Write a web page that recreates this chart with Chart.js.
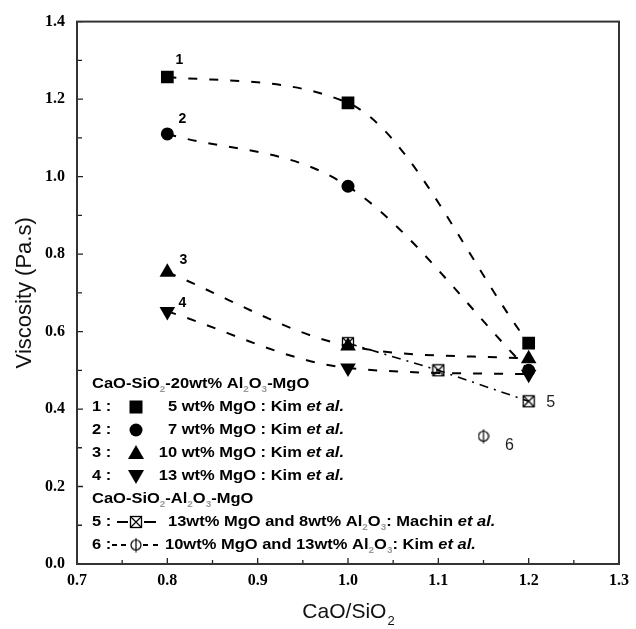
<!DOCTYPE html>
<html lang="en">
<head>
<meta charset="UTF-8">
<title>Viscosity vs CaO/SiO2</title>
<script src="https://cdn.jsdelivr.net/npm/chart.js"></script>
<style>
  html, body { margin: 0; padding: 0; background: #fff; }
  #wrap { position: relative; width: 636px; height: 629px; }
</style>
</head>
<body>
<div id="wrap"><canvas id="viscChart" width="636" height="629"></canvas></div>
<script>
// CaO/SiO2 ratio of each group of measurements
const basicityKim = [0.8, 1.0, 1.2];
const basicityMachin = [1.0, 1.1, 1.2];
const basicityKimAl13 = [1.15];

// viscosity in Pa.s
const visc5MgO = [1.257, 1.19, 0.57];
const visc7MgO = [1.11, 0.975, 0.50];
const visc10MgO = [0.753, 0.563, 0.53];
const visc13MgO = [0.652, 0.506, 0.49];
const viscMachin = [0.57, 0.50, 0.42];
const viscKimAl13 = [0.33];

// axis ticks
const xTickLabels = ['0.7', '0.8', '0.9', '1.0', '1.1', '1.2', '1.3'];
const yTickLabels = ['0.0', '0.2', '0.4', '0.6', '0.8', '1.0', '1.2', '1.4'];

const FONT = '"Liberation Sans", Arial, sans-serif';
const SERIF = '"Liberation Serif", "Times New Roman", serif';
const TEXT_STRETCH = 1.1; // the scanned figure's lettering is a bit wide

// custom marker images (crossed box, circle with bar)
function makeCrossBox(size) {
    const c = document.createElement('canvas');
    c.width = size; c.height = size;
    const g = c.getContext('2d');
    g.strokeStyle = '#000';
    g.lineWidth = 1.3;
    g.strokeRect(1.5, 1.5, size - 3, size - 3);
    g.beginPath();
    g.moveTo(2, 2); g.lineTo(size - 2, size - 2);
    g.moveTo(size - 2, 2); g.lineTo(2, size - 2);
    g.stroke();
    return c;
}
function makePhi(w, h) {
    const c = document.createElement('canvas');
    c.width = w; c.height = h;
    const g = c.getContext('2d');
    g.strokeStyle = '#000';
    g.lineWidth = 1.2;
    g.beginPath();
    g.ellipse(w / 2, h / 2, w / 2 - 1, h / 2 - 2.5, 0, 0, Math.PI * 2);
    g.stroke();
    g.beginPath();
    g.moveTo(w / 2, 0.5); g.lineTo(w / 2, h - 0.5);
    g.stroke();
    return c;
}
const crossBox = makeCrossBox(14);
const phiMark = makePhi(12, 15);

function pts(xs, ys) {
    return xs.map((x, i) => ({ x: x, y: ys[i] }));
}

const dashFit = [9, 12];

function kimSet(ys, style, radius, rotation) {
    return {
        data: pts(basicityKim, ys),
        showLine: true,
        tension: 0.4,
        cubicInterpolationMode: 'monotone',
        borderColor: '#000',
        borderWidth: 2,
        borderDash: dashFit,
        pointStyle: style,
        pointRadius: radius,
        pointRotation: rotation || 0,
        pointBackgroundColor: '#000',
        pointBorderColor: '#000',
        pointBorderWidth: 0
    };
}

// legend text pieces: n = bold, s = subscript, i = italic
const legendRows = [
    { y: 384, x: 92, parts: [['CaO-SiO', 'n'], ['2', 's'], ['-20wt% Al', 'n'], ['2', 's'], ['O', 'n'], ['3', 's'], ['-MgO', 'n']] },
    { y: 407, num: '1 :', mark: 'rect', right: 344, parts: [['5 wt% MgO : Kim ', 'n'], ['et al.', 'i']] },
    { y: 430, num: '2 :', mark: 'circle', right: 344, parts: [['7 wt% MgO : Kim ', 'n'], ['et al.', 'i']] },
    { y: 453, num: '3 :', mark: 'tri', right: 344, parts: [['10 wt% MgO : Kim ', 'n'], ['et al.', 'i']] },
    { y: 476, num: '4 :', mark: 'triDown', right: 344, parts: [['13 wt% MgO : Kim ', 'n'], ['et al.', 'i']] },
    { y: 499, x: 92, parts: [['CaO-SiO', 'n'], ['2', 's'], ['-Al', 'n'], ['2', 's'], ['O', 'n'], ['3', 's'], ['-MgO', 'n']] },
    { y: 522, num: '5 :', mark: 'box', x: 168, parts: [['13wt% MgO and 8wt% Al', 'n'], ['2', 's'], ['O', 'n'], ['3', 's'], [': Machin ', 'n'], ['et al.', 'i']] },
    { y: 545, num: '6 :', mark: 'phi', x: 165, parts: [['10wt% MgO and 13wt% Al', 'n'], ['2', 's'], ['O', 'n'], ['3', 's'], [': Kim ', 'n'], ['et al.', 'i']] }
];

function partFont(kind, size) {
    if (kind === 's') return 'bold ' + Math.round(size * 0.6) + 'px ' + FONT;
    if (kind === 'i') return 'italic bold ' + size + 'px ' + FONT;
    return 'bold ' + size + 'px ' + FONT;
}

function drawRich(ctx, parts, x, y, size, alignRight) {
    let w = 0;
    parts.forEach(p => { ctx.font = partFont(p[1], size); w += ctx.measureText(p[0]).width; });
    const start = alignRight ? x - w * TEXT_STRETCH : x;
    ctx.save();
    ctx.translate(start, y);
    ctx.scale(TEXT_STRETCH, 1);
    ctx.textAlign = 'left';
    ctx.textBaseline = 'middle';
    let cx = 0;
    parts.forEach(p => {
        ctx.font = partFont(p[1], size);
        ctx.fillStyle = p[1] === 's' ? '#999' : '#000';
        ctx.fillText(p[0], cx, p[1] === 's' ? size * 0.4 : 0);
        cx += ctx.measureText(p[0]).width;
    });
    ctx.restore();
}

function drawMark(ctx, kind, x, y) {
    ctx.save();
    ctx.fillStyle = '#000';
    ctx.strokeStyle = '#000';
    ctx.beginPath();
    if (kind === 'rect') {
        ctx.fillRect(x - 6.5, y - 6.5, 13, 13);
    } else if (kind === 'circle') {
        ctx.arc(x, y, 6.5, 0, Math.PI * 2);
        ctx.fill();
    } else if (kind === 'tri') {
        ctx.moveTo(x, y - 8); ctx.lineTo(x + 8, y + 6); ctx.lineTo(x - 8, y + 6);
        ctx.closePath(); ctx.fill();
    } else if (kind === 'triDown') {
        ctx.moveTo(x, y + 8); ctx.lineTo(x + 8, y - 6); ctx.lineTo(x - 8, y - 6);
        ctx.closePath(); ctx.fill();
    } else if (kind === 'box') {
        ctx.lineWidth = 2;
        ctx.moveTo(117, y); ctx.lineTo(128, y);
        ctx.moveTo(144, y); ctx.lineTo(156, y);
        ctx.stroke();
        ctx.drawImage(crossBox, x - 7, y - 7);
    } else if (kind === 'phi') {
        ctx.lineWidth = 2;
        ctx.moveTo(112, y); ctx.lineTo(117, y);
        ctx.moveTo(121, y); ctx.lineTo(126, y);
        ctx.moveTo(143, y); ctx.lineTo(148, y);
        ctx.moveTo(153, y); ctx.lineTo(158, y);
        ctx.stroke();
        ctx.drawImage(phiMark, x - 6, y - 7.5);
    }
    ctx.restore();
}

// frame, inward ticks, series numbers, legend block and x title
const notesPlugin = {
    id: 'notes',
    afterDraw(chart) {
        const ctx = chart.ctx;
        const a = chart.chartArea;
        const xs = chart.scales.x;
        const ys = chart.scales.y;
        ctx.save();

        // ticks pointing into the plot
        ctx.strokeStyle = '#222';
        ctx.lineWidth = 1.3;
        ctx.beginPath();
        for (let i = 0; i <= 12; i++) {
            const px = xs.getPixelForValue(0.7 + i * 0.05);
            const len = i % 2 === 0 ? 6 : 4;
            ctx.moveTo(px, a.bottom); ctx.lineTo(px, a.bottom - len);
        }
        for (let i = 0; i <= 14; i++) {
            const py = ys.getPixelForValue(i * 0.1);
            const len = i % 2 === 0 ? 6 : 5;
            ctx.moveTo(a.left, py); ctx.lineTo(a.left + len, py);
        }
        ctx.stroke();

        // frame
        ctx.strokeStyle = '#333';
        ctx.lineWidth = 2;
        ctx.strokeRect(a.left, a.top, a.right - a.left, a.bottom - a.top);

        // series numbers next to the points
        ctx.fillStyle = '#000';
        ctx.textAlign = 'center';
        ctx.textBaseline = 'middle';
        ctx.font = 'bold 14px ' + FONT;
        const x08 = xs.getPixelForValue(basicityKim[0]);
        ctx.fillText('1', x08 + 12, ys.getPixelForValue(visc5MgO[0]) - 17);
        ctx.fillText('2', x08 + 15, ys.getPixelForValue(visc7MgO[0]) - 15);
        ctx.fillText('3', x08 + 16, ys.getPixelForValue(visc10MgO[0]) - 12);
        ctx.fillText('4', x08 + 15, ys.getPixelForValue(visc13MgO[0]) - 8);
        ctx.font = '16px ' + FONT;
        ctx.fillStyle = '#222';
        ctx.fillText('5', xs.getPixelForValue(basicityMachin[2]) + 22, ys.getPixelForValue(viscMachin[2]) + 1);
        ctx.fillText('6', xs.getPixelForValue(basicityKimAl13[0]) + 26, ys.getPixelForValue(viscKimAl13[0]) + 9);

        // legend block
        legendRows.forEach(r => {
            if (r.num) {
                drawRich(ctx, [[r.num, 'n']], 92, r.y, 15, false);
                drawMark(ctx, r.mark, 136, r.y);
            }
            if (r.right) drawRich(ctx, r.parts, r.right, r.y, 15, true);
            else drawRich(ctx, r.parts, r.x, r.y, 15, false);
        });

        // x axis title with subscript
        ctx.textBaseline = 'middle';
        ctx.textAlign = 'left';
        const t1 = 'CaO/SiO';
        ctx.font = '21px ' + FONT;
        const w1 = ctx.measureText(t1).width;
        ctx.font = '13px ' + FONT;
        const w2 = ctx.measureText('2').width;
        const cx = (a.left + a.right) / 2 - (w1 + w2) / 2;
        ctx.fillStyle = '#111';
        ctx.font = '21px ' + FONT;
        ctx.fillText(t1, cx, 612);
        ctx.font = '13px ' + FONT;
        ctx.fillText('2', cx + w1 + 1, 621);

        ctx.restore();
    }
};

new Chart(document.getElementById('viscChart'), {
    type: 'scatter',
    data: {
        datasets: [
            {
                data: pts(basicityMachin, viscMachin),
                showLine: true,
                tension: 0,
                borderColor: '#000',
                borderWidth: 1.6,
                borderDash: [9, 6, 2, 6],
                pointStyle: crossBox,
                pointRadius: 7
            },
            kimSet(visc5MgO, 'rect', 9),
            kimSet(visc7MgO, 'circle', 6.5),
            kimSet(visc10MgO, 'triangle', 9),
            kimSet(visc13MgO, 'triangle', 9, 180),
            {
                data: pts(basicityKimAl13, viscKimAl13),
                showLine: false,
                pointStyle: phiMark,
                pointRadius: 7
            }
        ]
    },
    options: {
        responsive: false,
        animation: false,
        events: [],
        layout: { padding: { left: 0, right: 12, top: 19, bottom: 0 } },
        plugins: {
            legend: { display: false },
            tooltip: { enabled: false }
        },
        scales: {
            x: {
                type: 'linear',
                min: 0.7,
                max: 1.3,
                afterFit: s => { s.height = 65; },
                afterBuildTicks: s => { s.ticks = xTickLabels.map(t => ({ value: parseFloat(t) })); },
                grid: { display: false, drawTicks: false },
                border: { display: false },
                ticks: {
                    padding: 7,
                    color: '#000',
                    font: { family: SERIF, size: 16, weight: 'bold' },
                    callback: (v, i) => xTickLabels[i]
                }
            },
            y: {
                type: 'linear',
                min: 0,
                max: 1.4,
                afterFit: s => { s.width = 77; },
                afterBuildTicks: s => { s.ticks = yTickLabels.map(t => ({ value: parseFloat(t) })); },
                grid: { display: false, drawTicks: false },
                border: { display: false },
                title: {
                    display: true,
                    text: 'Viscosity (Pa.s)',
                    color: '#111',
                    padding: { top: 12, bottom: 0 },
                    font: { family: FONT, size: 22 }
                },
                ticks: {
                    padding: 12,
                    color: '#000',
                    font: { family: SERIF, size: 16, weight: 'bold' },
                    callback: (v, i) => yTickLabels[i]
                }
            }
        }
    },
    plugins: [notesPlugin]
});
</script>
</body>
</html>
